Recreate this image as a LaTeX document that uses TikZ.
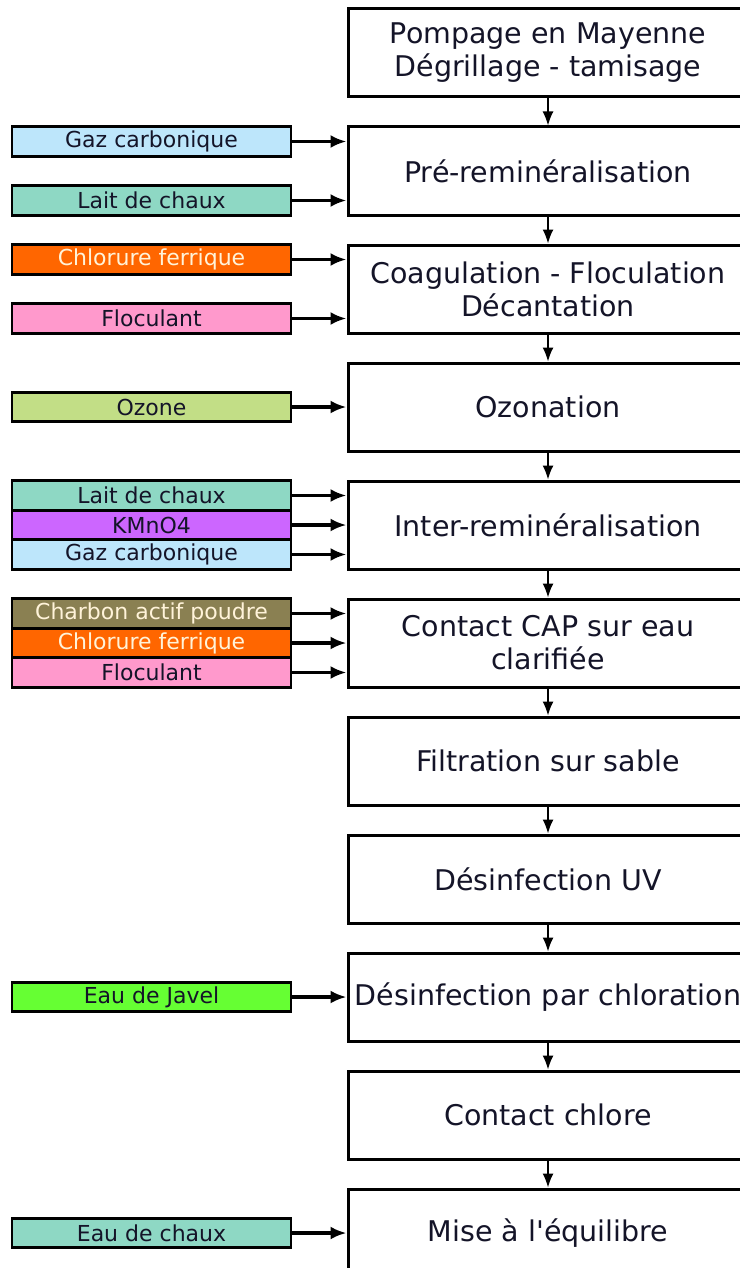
\documentclass[tikz,border=0pt]{standalone}
\usepackage{fontspec}
\setmainfont{DejaVu Sans}[Ligatures=TeXOff]
\usetikzlibrary{positioning,arrows.meta}

\definecolor{gazbleu}{RGB}{189,230,251}
\definecolor{chauxvert}{RGB}{142,216,196}
\definecolor{ferorange}{RGB}{255,102,0}
\definecolor{flocrose}{RGB}{255,153,204}
\definecolor{ozonevert}{RGB}{194,222,134}
\definecolor{kmnviolet}{RGB}{204,102,255}
\definecolor{charbonkaki}{RGB}{138,128,82}
\definecolor{javelvert}{RGB}{102,255,51}
\definecolor{texteclair}{RGB}{255,243,217}
\definecolor{encre}{RGB}{20,20,40}

\begin{document}
\begin{tikzpicture}[x=1pt,y=-1pt,
  every node/.style={align=center},
  node distance=27pt,
  etape/.style={draw,line width=3pt,minimum width=400pt,minimum height=88pt,inner sep=0pt,
                text=encre,font=\fontsize{28.5}{33}\selectfont},
  reactif/.style={draw,line width=2.8pt,minimum width=279pt,minimum height=29.5pt,inner sep=0pt,
                text=encre,font=\fontsize{22}{26}\selectfont},
  flux/.style={-{Latex[length=14pt,width=11pt]},line width=1.6pt},
  ajout/.style={-{Latex[length=16pt,width=13pt]},line width=3.4pt}]
\useasboundingbox[fill=white] (0,0) rectangle (739,1268);

% filiere de traitement
\node[etape] (pomp) at (548,53) {Pompage en Mayenne\\Dégrillage - tamisage};
\node[etape, below=of pomp] (prerem) {Pré-reminéralisation};
\node[etape, below=of prerem] (coag) {Coagulation - Floculation\\Décantation};
\node[etape, below=of coag] (ozon) {Ozonation};
\node[etape, below=of ozon] (interrem) {Inter-reminéralisation};
\node[etape, below=of interrem] (cap) {Contact CAP sur eau\\clarifiée};
\node[etape, below=of cap] (filtr) {Filtration sur sable};
\node[etape, below=of filtr] (uv) {Désinfection UV};
\node[etape, below=of uv] (chlor) {Désinfection par chloration};
\node[etape, below=of chlor] (contact) {Contact chlore};
\node[etape, below=of contact] (equil) {Mise à l'équilibre};

\draw[flux] (pomp) -- (prerem);
\draw[flux] (prerem) -- (coag);
\draw[flux] (coag) -- (ozon);
\draw[flux] (ozon) -- (interrem);
\draw[flux] (interrem) -- (cap);
\draw[flux] (cap) -- (filtr);
\draw[flux] (filtr) -- (uv);
\draw[flux] (uv) -- (chlor);
\draw[flux] (chlor) -- (contact);
\draw[flux] (contact) -- (equil);

% reactifs
\node[reactif, fill=gazbleu, yshift=29.5pt] (gaza) at (151.5,0 |- prerem) {Gaz carbonique};
\node[reactif, fill=chauxvert, yshift=-29.5pt] (laita) at (151.5,0 |- prerem) {Lait de chaux};

\node[reactif, fill=ferorange, text=texteclair, yshift=29.5pt] (fera) at (151.5,0 |- coag) {Chlorure ferrique};
\node[reactif, fill=flocrose, yshift=-29.5pt] (floca) at (151.5,0 |- coag) {Floculant};

\node[reactif, fill=ozonevert] (ozone) at (151.5,0 |- ozon) {Ozone};

\node[reactif, fill=chauxvert, yshift=29.5pt] (laitb) at (151.5,0 |- interrem) {Lait de chaux};
\node[reactif, fill=kmnviolet] (kmn) at (151.5,0 |- interrem) {KMnO4};
\node[reactif, fill=gazbleu, yshift=-29.5pt] (gazb) at (151.5,0 |- interrem) {Gaz carbonique};

\node[reactif, fill=charbonkaki, text=texteclair, yshift=29.5pt] (charbon) at (151.5,0 |- cap) {Charbon actif poudre};
\node[reactif, fill=ferorange, text=texteclair] (ferb) at (151.5,0 |- cap) {Chlorure ferrique};
\node[reactif, fill=flocrose, yshift=-29.5pt] (flocb) at (151.5,0 |- cap) {Floculant};

\node[reactif, fill=javelvert] (javel) at (151.5,0 |- chlor) {Eau de Javel};
\node[reactif, fill=chauxvert] (eauchaux) at (151.5,0 |- equil) {Eau de chaux};

\draw[ajout] (gaza) -- (gaza -| prerem.west);
\draw[ajout] (laita) -- (laita -| prerem.west);
\draw[ajout] (fera) -- (fera -| coag.west);
\draw[ajout] (floca) -- (floca -| coag.west);
\draw[ajout] (ozone) -- (ozone -| ozon.west);
\draw[ajout] (laitb) -- (laitb -| interrem.west);
\draw[ajout] (kmn) -- (kmn -| interrem.west);
\draw[ajout] (gazb) -- (gazb -| interrem.west);
\draw[ajout] (charbon) -- (charbon -| cap.west);
\draw[ajout] (ferb) -- (ferb -| cap.west);
\draw[ajout] (flocb) -- (flocb -| cap.west);
\draw[ajout] (javel) -- (javel -| chlor.west);
\draw[ajout] (eauchaux) -- (eauchaux -| equil.west);
\end{tikzpicture}
\end{document}
